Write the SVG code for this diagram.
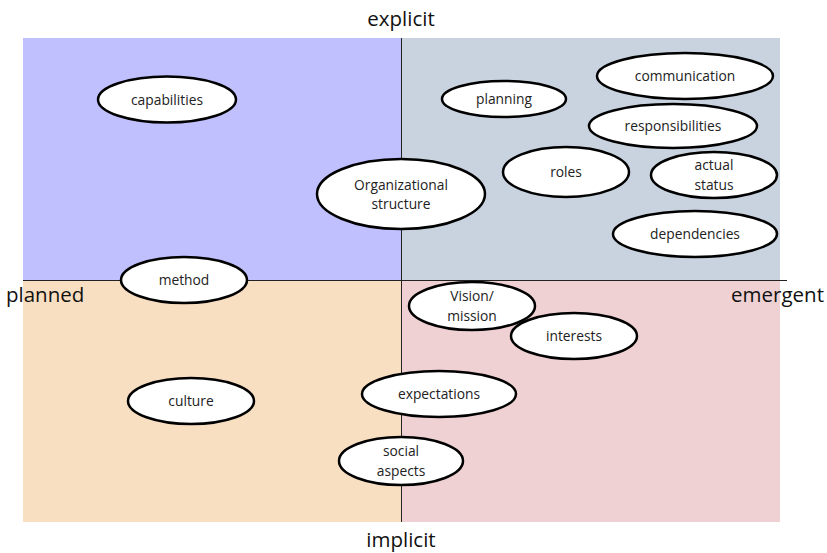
<svg xmlns="http://www.w3.org/2000/svg" width="827" height="553" viewBox="0 0 827 553">
<style>
.node ellipse{fill:#fff;stroke:#000;stroke-width:2.5}
.node text{font-family:"Open Sans","Liberation Sans",sans-serif;font-size:13.8px;fill:#222;text-anchor:middle}
.axis{font-family:"Open Sans","Liberation Sans",sans-serif;font-size:20.5px;fill:#111}
.ln{stroke:#222;stroke-width:1}
</style>
<rect width="827" height="553" fill="#fff"/>
<g id="quadrants">
<rect x="23" y="38" width="378" height="242" fill="#C0C0FF"/>
<rect x="401" y="38" width="379" height="242" fill="#C8D3DF"/>
<rect x="23" y="280" width="378" height="242" fill="#F9DFC2"/>
<rect x="401" y="280" width="379" height="242" fill="#EFD1D3"/>
</g>
<g id="axes">
<line class="ln" x1="401.5" y1="38" x2="401.5" y2="522"/>
<line class="ln" x1="23" y1="280.5" x2="787" y2="280.5"/>
<text class="axis" x="401" y="26" text-anchor="middle">explicit</text>
<text class="axis" x="401" y="547" text-anchor="middle">implicit</text>
<text class="axis" x="6" y="302">planned</text>
<text class="axis" x="824" y="302" text-anchor="end">emergent</text>
</g>
<g id="n-capabilities" class="node"><ellipse cx="167" cy="99.5" rx="69" ry="23"/><text x="167" y="104.5">capabilities</text></g>
<g id="n-org" class="node"><ellipse cx="401" cy="194" rx="84" ry="35"/><text x="401" y="189.5">Organizational</text><text x="401" y="209">structure</text></g>
<g id="n-method" class="node"><ellipse cx="184" cy="280" rx="63" ry="23"/><text x="184" y="285">method</text></g>
<g id="n-planning" class="node"><ellipse cx="504" cy="99" rx="62" ry="18"/><text x="504" y="104">planning</text></g>
<g id="n-communication" class="node"><ellipse cx="685" cy="76" rx="88" ry="23"/><text x="685" y="81">communication</text></g>
<g id="n-responsibilities" class="node"><ellipse cx="673" cy="126" rx="84" ry="22"/><text x="673" y="131">responsibilities</text></g>
<g id="n-roles" class="node"><ellipse cx="566" cy="172" rx="63" ry="25"/><text x="566" y="177">roles</text></g>
<g id="n-status" class="node"><ellipse cx="714" cy="175" rx="63" ry="23"/><text x="714" y="170">actual</text><text x="714" y="190">status</text></g>
<g id="n-dependencies" class="node"><ellipse cx="695" cy="234" rx="82" ry="23"/><text x="695" y="239">dependencies</text></g>
<g id="n-vision" class="node"><ellipse cx="472" cy="306" rx="63" ry="24"/><text x="472" y="301">Vision/</text><text x="472" y="321">mission</text></g>
<g id="n-interests" class="node"><ellipse cx="574" cy="336" rx="63" ry="23"/><text x="574" y="341">interests</text></g>
<g id="n-expectations" class="node"><ellipse cx="439" cy="394" rx="77" ry="23"/><text x="439" y="399">expectations</text></g>
<g id="n-social" class="node"><ellipse cx="401" cy="461" rx="62" ry="24"/><text x="401" y="456">social</text><text x="401" y="476">aspects</text></g>
<g id="n-culture" class="node"><ellipse cx="191" cy="401" rx="63" ry="23"/><text x="191" y="406">culture</text></g>
<g id="connectors"/>
</svg>
